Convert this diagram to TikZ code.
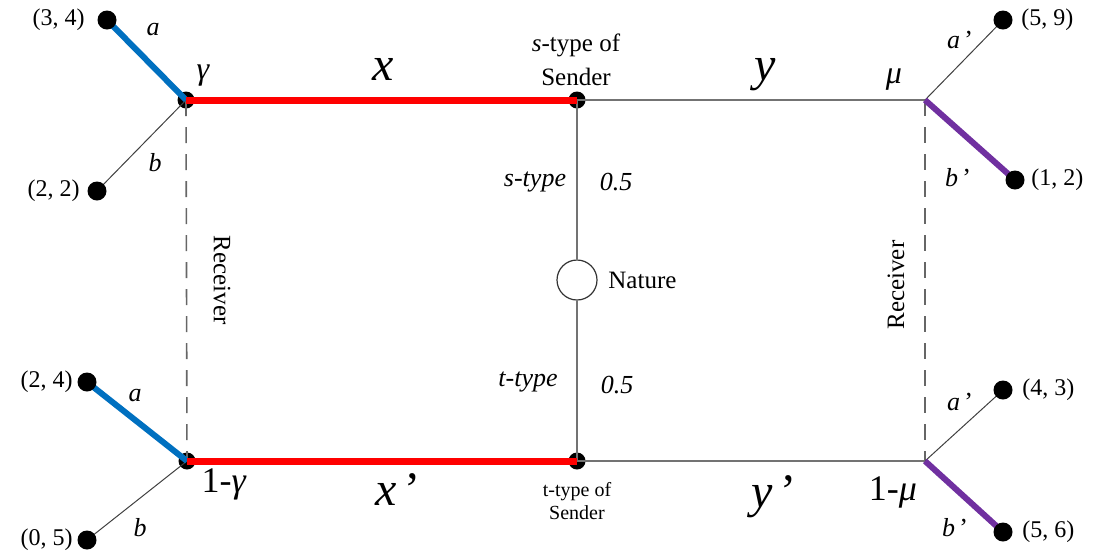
\documentclass[tikz,border=0pt]{standalone}
\usepackage{fontspec}
\setmainfont{Liberation Serif}
\definecolor{myred}{RGB}{255,0,0}
\definecolor{myblue}{RGB}{0,112,192}
\definecolor{mypurple}{RGB}{112,48,160}
\begin{document}
\begin{tikzpicture}[x=0.5pt,y=-0.5pt,
  leaf/.style={circle,fill=black,inner sep=0pt,minimum size=9.5pt},
  junction/.style={circle,fill=black,inner sep=0pt,minimum size=8.5pt},
  coordtxt/.style={font=\fontsize{12}{14}\selectfont,inner sep=0pt},
  lbl/.style={font=\fontsize{13}{15}\selectfont\itshape,inner sep=0pt},
  greek/.style={font=\fontsize{16}{18}\selectfont\itshape,inner sep=0pt},
  biggreek/.style={font=\fontsize{18}{20}\selectfont,inner sep=0pt},
  bigvar/.style={font=\fontsize{24}{26}\selectfont,inner sep=0pt},
  thinline/.style={draw=black!75,line width=0.5pt},
  grayline/.style={draw=black!55,line width=0.9pt},
  redline/.style={draw=myred,line width=3.5pt},
  blueline/.style={draw=myblue,line width=3pt},
  purpleline/.style={draw=mypurple,line width=3pt},
  dashline/.style={draw=black!60,line width=0.8pt,dash pattern=on 8pt off 5.5pt},
  naturestyle/.style={circle,draw=black!80,fill=white,line width=0.6pt,minimum size=20pt,inner sep=0pt},
  plaintxt/.style={font=\fontsize{12.5}{14}\selectfont,inner sep=0pt}]
\useasboundingbox (0,0) rectangle (1096,559);
% junctions
\node[junction] (g1) at (186,100) {};
\node[junction] (g2) at (187,461) {};
\node[junction] (s1) at (577,100) {};
\node[junction] (s2) at (577,461) {};
\coordinate (m1) at (925,100);
\coordinate (m2) at (925,461);
% leaves positions
\coordinate (L1) at (107,20);
\coordinate (L2) at (97,191);
\coordinate (L3) at (87,382);
\coordinate (L4) at (87,540);
\coordinate (R1) at (1003,20);
\coordinate (R2) at (1015,180);
\coordinate (R3) at (1003,390);
\coordinate (R4) at (1003,532);
% dashed receiver lines
\draw[dashline] (g1.center) -- (g2.center);
\draw[dashline] (m1) -- (m2);
% gray lines
\draw[grayline] (s1.center) -- (m1);
\draw[grayline] (s2.center) -- (m2);
\node[naturestyle] (nat) at (577,280) {};
\draw[grayline] (s1.center) -- (nat);
\draw[grayline] (nat) -- (s2.center);
% thin leaf lines
\draw[thinline] (g1.center) -- (L2);
\draw[thinline] (g2.center) -- (L4);
\draw[thinline] (m1) -- (R1);
\draw[thinline] (m2) -- (R3);
% thick lines
\draw[blueline] (g1.center) -- (L1);
\draw[blueline] (g2.center) -- (L3);
\draw[purpleline] (m1) -- (R2);
\draw[purpleline] (m2) -- (R4);
\draw[redline] (g1.center) -- (s1.center);
\draw[redline] (g2.center) -- (s2.center);
% leaf dots
\node[leaf] (l1) at (L1) {};
\node[leaf] (l2) at (L2) {};
\node[leaf] (l3) at (L3) {};
\node[leaf] (l4) at (L4) {};
\node[leaf] (r1) at (R1) {};
\node[leaf] (r2) at (R2) {};
\node[leaf] (r3) at (R3) {};
\node[leaf] (r4) at (R4) {};
% payoffs
\node[coordtxt,anchor=east] (t1) at (85,20) {(3, 4)};
\node[coordtxt,anchor=east] (t2) at (80,191) {(2, 2)};
\node[coordtxt,anchor=east] (t3) at (73,382) {(2, 4)};
\node[coordtxt,anchor=east] (t4) at (73,540) {(0, 5)};
\node[coordtxt,anchor=west] (t5) at (1021,20) {(5, 9)};
\node[coordtxt,anchor=west] (t6) at (1031,180) {(1, 2)};
\node[coordtxt,anchor=west] (t7) at (1022,390) {(4, 3)};
\node[coordtxt,anchor=west] (t8) at (1022,532) {(5, 6)};
% action labels
\node[lbl] (la1) at (153,30) {a};
\node[lbl] (lb1) at (155,163) {b};
\node[lbl] (la2) at (135,395) {a};
\node[lbl] (lb2) at (140,528) {b};
\node[lbl] (la3) at (960,40) {a\,\upshape’};
\node[lbl] (lb3) at (958,178) {b\,\upshape’};
\node[lbl] (la4) at (960,402) {a\,\upshape’};
\node[lbl] (lb4) at (955,528) {b\,\upshape’};
% beliefs
\node[greek] (gam) at (203,76) {γ};
\node[greek] (mu) at (894,80) {μ};
\node[biggreek] (gam2) at (224,484) {1-\textit{γ}};
\node[biggreek] (mu2) at (893,492) {1-\textit{μ}};
% messages
\node[bigvar,anchor=base] (x) at (383,80) {\textit{x}};
\node[bigvar,anchor=base] (y) at (765,80) {\textit{y}};
\node[bigvar,anchor=base west] (x2) at (375,505) {\textit{x}\,’};
\node[bigvar,anchor=base west] (y2) at (751,507) {\textit{y}\,’};
% sender labels
\node[plaintxt,align=center,font=\fontsize{12.5}{17}\selectfont] (st) at (576,60) {\textit{s}-type of\\Sender};
\node[plaintxt,align=center,font=\fontsize{10}{11.5}\selectfont] (tt) at (577,501) {t-type of\\Sender};
\node[lbl] (sty) at (535,182) {s-type};
\node[lbl] (p1) at (616,182) {0.5};
\node[lbl] (tty) at (528,382) {t-type};
\node[lbl] (p2) at (617,385) {0.5};
\node[plaintxt,anchor=west] (natl) at (608,280) {Nature};
% receiver labels
\node[plaintxt,rotate=-90] (rec1) at (222,280) {Receiver};
\node[plaintxt,rotate=90] (rec2) at (896,285) {Receiver};
\end{tikzpicture}
\end{document}
